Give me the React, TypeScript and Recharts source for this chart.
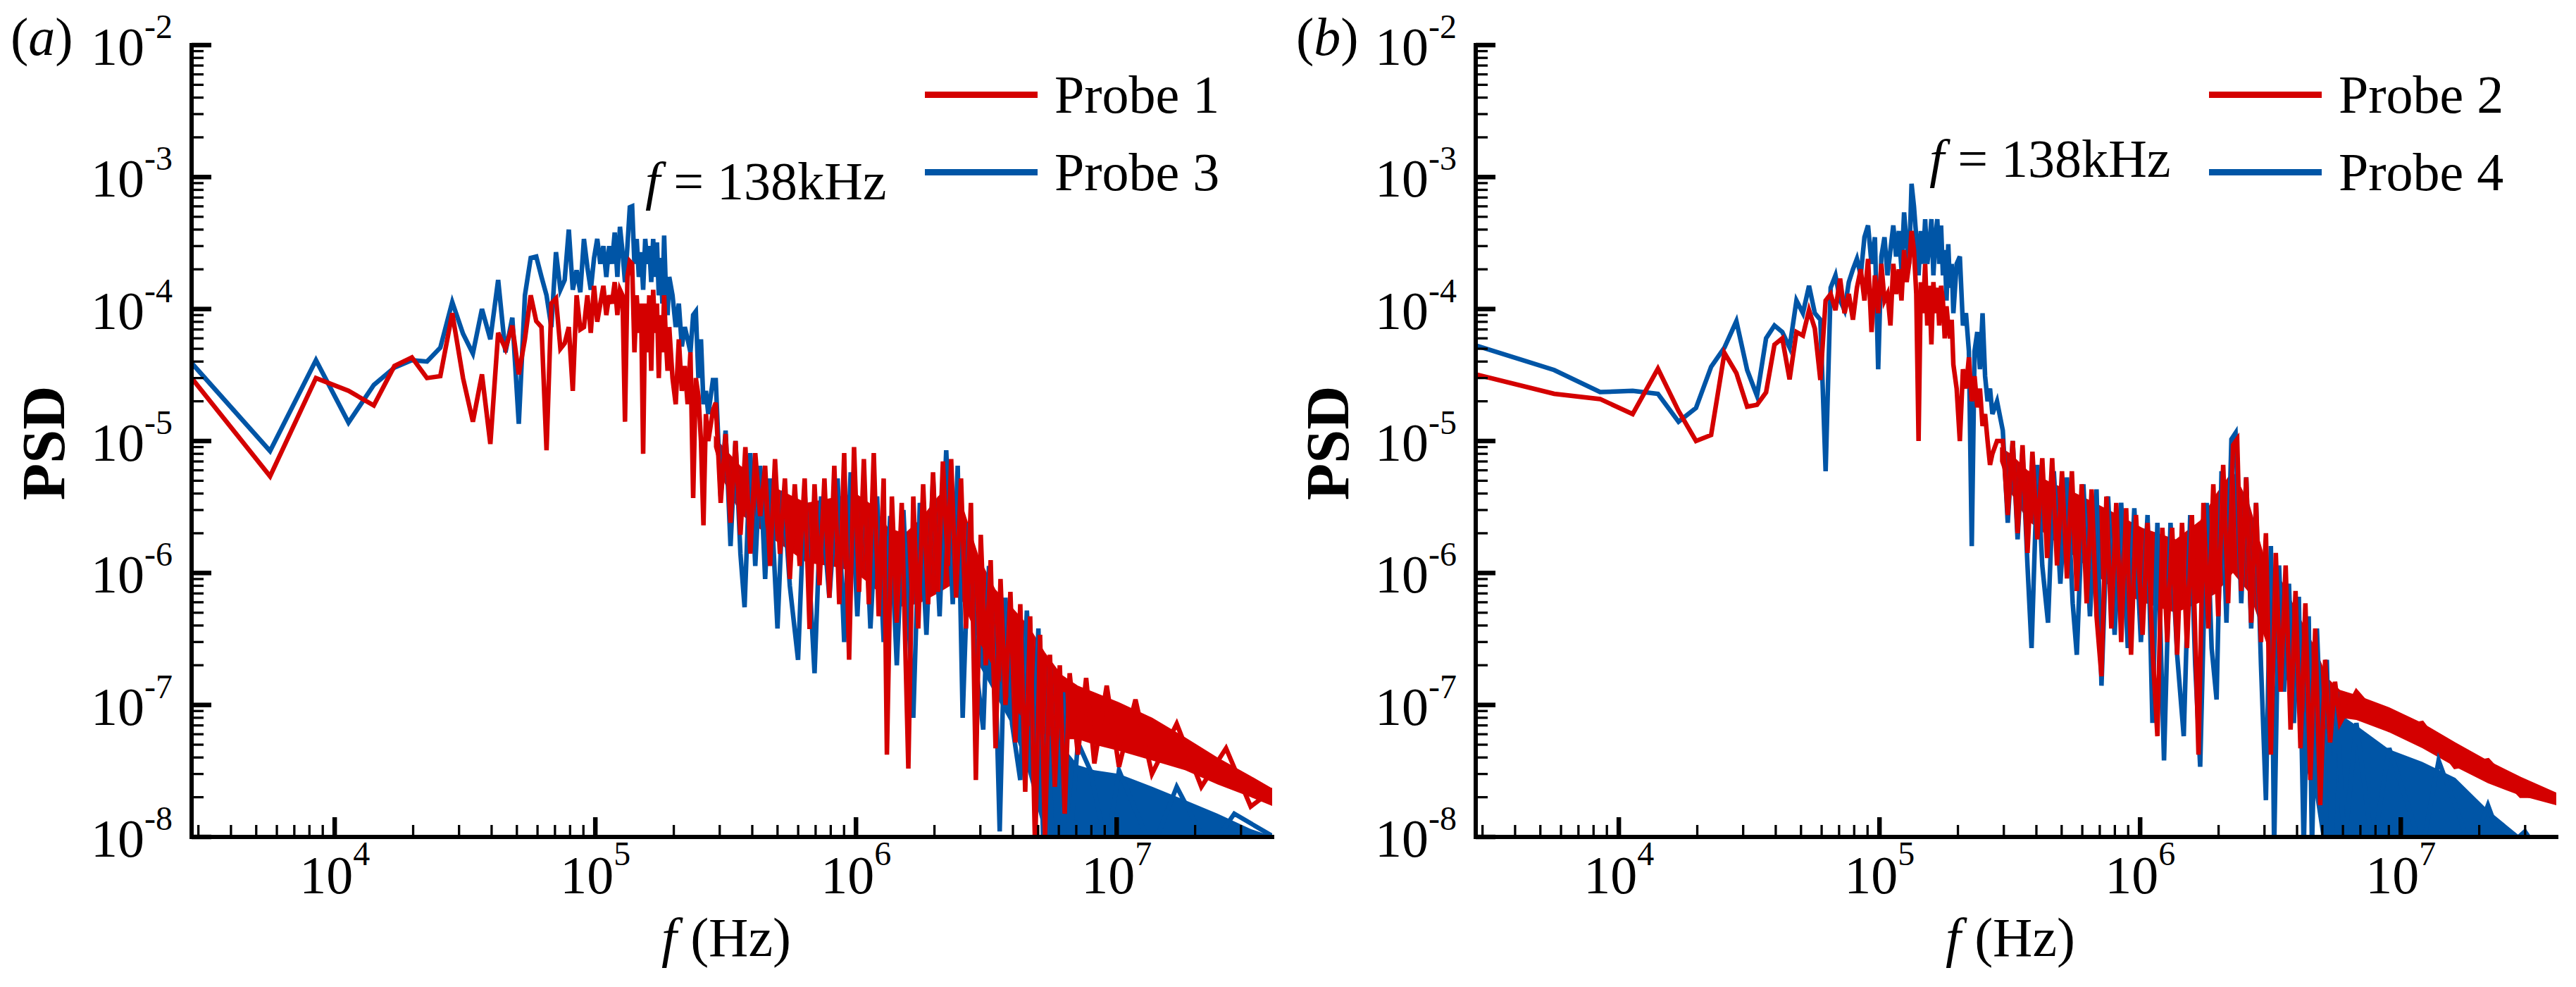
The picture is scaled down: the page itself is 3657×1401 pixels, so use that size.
import React from 'react';
import { ComposedChart, Line, Area, XAxis, YAxis, Legend } from 'recharts';

const SERIF = "'Liberation Serif'";
const TXT: React.CSSProperties = { fontFamily: SERIF };
const RED = '#d40000';
const BLUE = '#0055a6';

// ---------- axes ----------
const X_DOMAIN: [number, number] = [2825, 3.95e7];
const Y_DOMAIN: [number, number] = [1e-8, 1e-2];
const X_MAJOR = [1e4, 1e5, 1e6, 1e7];
const X_MINOR = [3e3, 4e3, 5e3, 6e3, 7e3, 8e3, 9e3, 2e4, 3e4, 4e4, 5e4, 6e4, 7e4, 8e4, 9e4, 2e5, 3e5, 4e5, 5e5, 6e5, 7e5, 8e5, 9e5, 2e6, 3e6, 4e6, 5e6, 6e6, 7e6, 8e6, 9e6, 2e7, 3e7];
const Y_MAJOR = [1e-8, 1e-7, 1e-6, 1e-5, 1e-4, 1e-3, 1e-2];
const Y_MINOR = [
  2e-8, 3e-8, 4e-8, 5e-8, 6e-8, 7e-8, 8e-8, 9e-8,
  2e-7, 3e-7, 4e-7, 5e-7, 6e-7, 7e-7, 8e-7, 9e-7,
  2e-6, 3e-6, 4e-6, 5e-6, 6e-6, 7e-6, 8e-6, 9e-6,
  2e-5, 3e-5, 4e-5, 5e-5, 6e-5, 7e-5, 8e-5, 9e-5,
  2e-4, 3e-4, 4e-4, 5e-4, 6e-4, 7e-4, 8e-4, 9e-4,
  2e-3, 3e-3, 4e-3, 5e-3, 6e-3, 7e-3, 8e-3, 9e-3,
];

// ---------- low-frequency FFT bins (Hz) ----------
const lowFreqHz = [
  2825, 5650, 8475, 11300, 14125, 16950, 19775, 22600, 25425, 28250,
  31075, 33900, 36725, 39550, 42375, 45200, 48025, 50850, 53675, 56500,
  59325, 62150, 64975, 67800, 70625, 73450, 76275, 79100, 81925, 84750,
  87575, 90400, 93225, 96050, 98875, 101700, 104525, 107350, 110175, 113000,
  115825, 118650, 121475, 124300, 127125, 129950, 132775, 135600, 138425, 141250,
  144075, 146900, 149725, 152550, 155375, 158200, 161025, 163850, 166675, 169500,
  172325, 175150, 177975, 180800, 183625, 186450, 189275, 192100,
  197750, 203400, 209050, 214700, 220350, 226000, 231650, 237300, 242950, 248600, 254250, 259900, 265550, 271200,
  282500,
];

// (a) Probe 1 (red) and Probe 3 (blue)
const probe1Low = [
  3.0e-5, 5.4e-6, 3.0e-5, 2.4e-5, 1.86e-5, 3.7e-5, 4.3e-5, 3.0e-5, 3.1e-5, 9.3e-5,
  3.0e-5, 1.4e-5, 3.2e-5, 9.5e-6, 6.6e-5, 5.0e-5, 7.5e-5, 3.2e-5, 5.9e-5, 1.27e-4,
  8.1e-5, 7.3e-5, 8.5e-6, 1.1e-4, 1.2e-4, 5.0e-5, 5.5e-5, 7.3e-5, 2.4e-5, 1.27e-4,
  7.0e-5, 7.3e-5, 1.27e-4, 6.6e-5, 1.5e-4, 8.0e-5, 1.1e-4, 1.5e-4, 9.0e-5, 1.27e-4,
  1.1e-4, 1.6e-4, 9.0e-5, 1.4e-4, 1.27e-4, 1.4e-5, 1.75e-4, 2.3e-4, 2.2e-4, 4.7e-5,
  1.27e-4, 6.6e-5, 1.1e-4, 8.0e-6, 1.1e-4, 4.7e-5, 1.27e-4, 3.4e-5, 1.4e-4, 6.6e-5,
  1.1e-4, 3.0e-5, 9.0e-5, 4.7e-5, 1.27e-4, 5.9e-5, 3.4e-5, 7.3e-5,
  3.0e-5, 1.9e-5, 5.9e-5, 2.4e-5, 3.7e-5, 1.9e-5, 4.7e-5, 3.7e-6, 3.0e-5, 2.2e-5, 1.0e-5, 2.3e-6, 1.6e-5, 1.0e-5,
  1.7e-5,
];
const probe3Low = [
  3.9e-5, 8.4e-6, 4.1e-5, 1.38e-5, 2.66e-5, 3.6e-5, 4.1e-5, 4.0e-5, 5.1e-5, 1.13e-4,
  6.5e-5, 4.6e-5, 1.0e-4, 5.9e-5, 1.66e-4, 4.7e-5, 8.6e-5, 1.35e-5, 1.27e-4, 2.44e-4,
  2.5e-4, 1.75e-4, 1.27e-4, 7.3e-5, 2.7e-4, 1.4e-4, 1.66e-4, 4.0e-4, 1.4e-4, 1.97e-4,
  1.34e-4, 3.4e-4, 2.07e-4, 1.4e-4, 2.44e-4, 3.4e-4, 2.2e-4, 3.0e-4, 1.75e-4, 3.0e-4,
  2.2e-4, 3.8e-4, 1.75e-4, 4.2e-4, 2.7e-4, 1.6e-4, 3.0e-4, 5.9e-4, 6.0e-4, 2.2e-4,
  3.4e-4, 1.75e-4, 2.7e-4, 1.4e-4, 3.4e-4, 2.2e-4, 3.0e-4, 1.6e-4, 3.4e-4, 1.75e-4,
  3.2e-4, 1.27e-4, 2.44e-4, 1.1e-4, 3.6e-4, 1.4e-4, 9.0e-5, 1.75e-4,
  1.27e-4, 7.3e-5, 1.1e-4, 5.2e-5, 7.3e-5, 5.9e-5, 4.7e-5, 9.0e-5, 9.6e-5, 3.0e-5, 5.9e-5, 1.9e-5, 2.4e-5, 1.6e-5,
  2.9e-5,
];

// (b) Probe 2 (red) and Probe 4 (blue)
const probe2Low = [
  3.2e-5, 2.28e-5, 2.08e-5, 1.6e-5, 3.53e-5, 1.69e-5, 1.0e-5, 1.11e-5, 4.65e-5, 3.27e-5,
  1.82e-5, 1.88e-5, 2.34e-5, 5.37e-5, 6.0e-5, 2.93e-5, 6.7e-5, 6.3e-5, 9.8e-5, 7.1e-5,
  2.9e-5, 1.16e-4, 1.3e-4, 9.8e-5, 1.7e-4, 9.3e-5, 1.3e-4, 8.3e-5, 1.45e-4, 2.0e-4,
  1.16e-4, 2.4e-4, 6.7e-5, 1.8e-4, 9.3e-5, 2.2e-4, 1.16e-4, 1.3e-4, 7.5e-5, 2.2e-4,
  1.3e-4, 2.0e-4, 1.16e-4, 2.8e-4, 1.6e-4, 2.2e-4, 3.9e-4, 2.8e-4, 1.3e-4, 1.0e-5,
  1.6e-4, 9.3e-5, 2.2e-4, 7.5e-5, 1.5e-4, 5.4e-5, 1.6e-4, 9.3e-5, 1.45e-4, 7.5e-5,
  1.5e-4, 1.16e-4, 6.0e-5, 1.05e-4, 7.5e-5, 6.0e-5, 8.3e-5, 3.8e-5,
  2.5e-5, 1.0e-5, 3.5e-5, 2.5e-5, 4.3e-5, 2.0e-5, 3.1e-5, 1.8e-5, 2.5e-5, 1.3e-5, 1.6e-5, 1.0e-5, 6.6e-6, 8.0e-6,
  1.0e-5,
];
const probe4Low = [
  5.3e-5, 3.45e-5, 2.35e-5, 2.4e-5, 2.28e-5, 1.4e-5, 1.78e-5, 3.65e-5, 5.1e-5, 8.1e-5,
  3.45e-5, 2.2e-5, 6.0e-5, 7.5e-5, 6.7e-5, 5.1e-5, 1.16e-4, 9.3e-5, 1.5e-4, 9.3e-5,
  8.3e-5, 5.9e-6, 1.45e-4, 1.8e-4, 1.16e-4, 9.8e-5, 1.6e-4, 2.0e-4, 2.4e-4, 1.8e-4,
  3.5e-4, 4.3e-4, 2.2e-4, 3.5e-4, 3.5e-5, 2.5e-4, 3.5e-4, 1.8e-4, 2.8e-4, 4.3e-4,
  2.5e-4, 3.9e-4, 2.0e-4, 5.4e-4, 3.1e-4, 2.2e-4, 8.9e-4, 6.0e-4, 3.5e-4, 1.8e-4,
  3.9e-4, 2.2e-4, 4.8e-4, 2.2e-4, 3.0e-4, 4.8e-4, 1.8e-4, 3.5e-4, 4.8e-4, 2.2e-4,
  4.3e-4, 1.8e-4, 2.8e-4, 1.16e-4, 3.1e-4, 1.45e-4, 2.2e-4, 9.3e-5,
  2.2e-4, 2.5e-4, 7.5e-5, 9.3e-5, 4.8e-5, 1.6e-6, 4.8e-5, 6.7e-5, 3.5e-5, 9.3e-5, 3.1e-5, 2.0e-5, 2.5e-5, 1.6e-5,
  2.0e-5,
];

// ---------- high-frequency spectra: [f (Hz), PSD] spikes ----------
const probe1High: [number, number][] = [
  [2.897e5, 1.95e-5], [3.026e5, 3.4e-6], [3.16e5, 1.13e-5], [3.301e5, 2.4e-6], [3.449e5, 1.0e-5],
  [3.603e5, 1.95e-6], [3.764e5, 9.0e-6], [3.932e5, 1.4e-6], [4.107e5, 8.1e-6], [4.29e5, 2.7e-6],
  [4.481e5, 6.5e-6], [4.681e5, 1.13e-6], [4.89e5, 7.3e-6], [5.108e5, 1.4e-6], [5.336e5, 5.2e-6],
  [5.574e5, 9.0e-7], [5.823e5, 4.7e-6], [6.083e5, 1.13e-6], [6.354e5, 5.2e-6], [6.637e5, 3.76e-7],
  [6.934e5, 4.7e-6], [7.243e5, 8.1e-7], [7.566e5, 5.2e-6], [7.904e5, 6.5e-7], [8.256e5, 6.5e-6],
  [8.625e5, 5.8e-7], [9.01e5, 8.1e-6], [9.41e5, 2.2e-7], [9.83e5, 9.0e-6], [1.027e6, 7.2e-7],
  [1.072e6, 7.3e-6], [1.12e6, 5.8e-7], [1.17e6, 8.1e-6], [1.222e6, 4.7e-7], [1.277e6, 5.2e-6],
  [1.314e6, 4.2e-8], [1.373e6, 3.8e-6], [1.434e6, 4.2e-7], [1.498e6, 3.4e-6], [1.588e6, 3.3e-8],
  [1.659e6, 3.8e-6], [1.733e6, 3.8e-7], [1.81e6, 4.7e-6], [1.891e6, 5.8e-7], [1.975e6, 5.8e-6],
  [2.063e6, 7.2e-7], [2.155e6, 7.0e-6], [2.251e6, 1.13e-6], [2.318e6, 7.3e-6], [2.421e6, 6.5e-7],
  [2.529e6, 5.2e-6], [2.642e6, 3.8e-7], [2.76e6, 3.4e-6], [2.883e6, 2.7e-8], [3.011e6, 1.95e-6],
  [3.146e6, 2.0e-7], [3.286e6, 1.25e-6], [3.432e6, 4.7e-8], [3.585e6, 9.0e-7], [3.745e6, 1.0e-7],
  [3.912e6, 7.2e-7], [4.087e6, 5.2e-8], [4.269e6, 5.8e-7], [4.459e6, 2.2e-8], [4.658e6, 4.7e-7],
  [4.866e6, 8e-9], [5.083e6, 3.4e-7], [5.309e6, 1.0e-8], [5.546e6, 2.4e-7], [5.793e6, 2.4e-8],
  [6.052e6, 2.0e-7], [6.321e6, 1.5e-8], [6.603e6, 1.74e-7], [7.1e6, 4.2e-8], [7.637e6, 1.6e-7],
  [8.213e6, 3.6e-8], [9.16e6, 1.4e-7], [1.021e7, 3.4e-8], [1.181e7, 1.1e-7], [1.366e7, 3.0e-8],
  [1.7e7, 7.2e-8], [2.113e7, 2.4e-8], [2.628e7, 4.7e-8], [3.268e7, 1.7e-8], [4.007e7, 2.3e-8],
];
const probe3High: [number, number][] = [
  [2.897e5, 2.9e-5], [3.026e5, 3.8e-6], [3.16e5, 1.2e-5], [3.301e5, 1.6e-6], [3.449e5, 1.0e-5],
  [3.603e5, 1.4e-6], [3.737e5, 5.5e-7], [3.932e5, 8.1e-6], [4.107e5, 1.13e-6], [4.29e5, 6.5e-6],
  [4.481e5, 9.0e-7], [4.681e5, 5.2e-6], [4.998e5, 3.8e-7], [5.259e5, 4.2e-6], [5.574e5, 8.0e-7],
  [5.994e5, 2.2e-7], [6.354e5, 4.2e-6], [6.934e5, 1.74e-7], [7.348e5, 3.8e-6], [7.904e5, 6.5e-7],
  [8.5e5, 5.2e-6], [9.01e5, 3.0e-7], [9.54e5, 5.8e-6], [1.012e6, 4.7e-7], [1.072e6, 5.2e-6],
  [1.136e6, 3.8e-7], [1.205e6, 3.8e-6], [1.277e6, 3.0e-7], [1.353e6, 2.7e-6], [1.434e6, 2.0e-7],
  [1.52e6, 3.0e-6], [1.659e6, 8.0e-8], [1.758e6, 3.4e-6], [1.863e6, 3.4e-7], [1.975e6, 5.2e-6],
  [2.093e6, 4.7e-7], [2.219e6, 8.5e-6], [2.351e6, 5.8e-7], [2.456e6, 6.5e-6], [2.566e6, 8.0e-8],
  [2.72e6, 2.4e-6], [2.883e6, 2.0e-7], [3.077e6, 6.5e-8], [3.238e6, 1.13e-6], [3.432e6, 1.6e-7],
  [3.559e6, 1.1e-8], [3.745e6, 6.5e-7], [3.97e6, 7.2e-8], [4.269e6, 2.7e-8], [4.524e6, 5.2e-7],
  [4.796e6, 4.2e-8], [5.01e6, 3.8e-7], [5.233e6, 8e-9], [5.546e6, 2.2e-7], [5.921e6, 8e-9],
  [6.23e6, 1.25e-7], [6.603e6, 8e-9], [7.1e6, 5.2e-8], [7.92e6, 3.2e-8], [9.16e6, 8e-9],
  [1.021e7, 3.2e-8], [1.366e7, 8e-9], [1.7e7, 2.4e-8], [2.273e7, 8e-9], [2.827e7, 1.5e-8], [4.007e7, 1.0e-8],
];
const probe2High: [number, number][] = [
  [2.973e5, 1.0e-5], [3.106e5, 2.75e-6], [3.245e5, 1.0e-5], [3.388e5, 2.0e-6], [3.539e5, 9.3e-6],
  [3.697e5, 1.42e-6], [3.862e5, 8.3e-6], [4.034e5, 1.8e-6], [4.213e5, 7.4e-6], [4.4e5, 1.3e-6],
  [4.598e5, 7.4e-6], [4.8e5, 1.14e-6], [5.015e5, 5.9e-6], [5.24e5, 9.1e-7], [5.472e5, 5.9e-6],
  [5.716e5, 7.3e-7], [5.97e5, 4.7e-6], [6.237e5, 5.9e-7], [6.514e5, 4.3e-6], [6.805e5, 4.7e-7],
  [7.108e5, 1.65e-7], [7.425e5, 3.8e-6], [7.755e5, 3.8e-7], [8.1e5, 3.4e-6], [8.46e5, 3.0e-7],
  [8.84e5, 3.1e-6], [9.23e5, 2.4e-7], [9.64e5, 2.75e-6], [1.022e6, 3.4e-7], [1.068e6, 2.4e-6],
  [1.115e6, 2.7e-7], [1.165e6, 5.8e-8], [1.217e6, 2.2e-6], [1.271e6, 3.0e-7], [1.327e6, 2.2e-6],
  [1.387e6, 2.4e-7], [1.448e6, 2.4e-6], [1.513e6, 2.7e-7], [1.58e6, 2.75e-6], [1.675e6, 4.2e-8],
  [1.75e6, 3.4e-6], [1.827e6, 3.8e-7], [1.909e6, 4.7e-6], [1.994e6, 4.7e-7], [2.083e6, 6.6e-6],
  [2.176e6, 5.9e-7], [2.273e6, 9.3e-6], [2.357e6, 1.03e-5], [2.443e6, 7.3e-7], [2.553e6, 5.3e-6],
  [2.667e6, 4.2e-7], [2.785e6, 3.4e-6], [2.909e6, 3.0e-7], [3.038e6, 2.0e-6], [3.174e6, 4.2e-8],
  [3.315e6, 1.42e-6], [3.463e6, 1.26e-7], [3.617e6, 1.14e-6], [3.778e6, 6.5e-8], [3.947e6, 7.3e-7],
  [4.123e6, 4.7e-8], [4.306e6, 5.9e-7], [4.498e6, 2.7e-8], [4.698e6, 3.8e-7], [4.908e6, 1.74e-8],
  [5.127e6, 2.2e-7], [5.356e6, 5.2e-8], [5.593e6, 1.5e-7], [5.843e6, 7.3e-8], [6.757e6, 1.26e-7],
  [9.03e6, 6.5e-8], [1.208e7, 7.3e-8], [1.615e7, 3.4e-8], [2.16e7, 3.8e-8], [2.887e7, 2.05e-8], [3.862e7, 2.05e-8],
];
const probe4High: [number, number][] = [
  [2.973e5, 1.2e-5], [3.106e5, 2.4e-6], [3.245e5, 1.0e-5], [3.388e5, 1.8e-6], [3.539e5, 8.3e-6],
  [3.697e5, 1.14e-6], [3.833e5, 2.7e-7], [4.034e5, 6.6e-6], [4.213e5, 1.14e-6], [4.433e5, 4.2e-7],
  [4.665e5, 5.9e-6], [4.943e5, 8.3e-7], [5.24e5, 5.3e-6], [5.512e5, 5.9e-7], [5.716e5, 2.4e-7],
  [6.058e5, 4.7e-6], [6.42e5, 4.7e-7], [6.805e5, 4.3e-6], [7.108e5, 1.4e-7], [7.534e5, 3.8e-6],
  [7.983e5, 3.4e-7], [8.46e5, 3.4e-6], [8.97e5, 2.7e-7], [9.5e5, 3.1e-6], [1.007e6, 3.0e-7],
  [1.068e6, 2.75e-6], [1.115e6, 7.3e-8], [1.165e6, 2.4e-6], [1.235e6, 3.8e-8], [1.308e6, 2.4e-6],
  [1.387e6, 2.4e-7], [1.47e6, 5.8e-8], [1.557e6, 2.75e-6], [1.627e6, 2.0e-7], [1.7e6, 3.4e-8],
  [1.8e6, 3.4e-6], [1.881e6, 2.7e-7], [1.965e6, 1.1e-7], [2.053e6, 5.9e-6], [2.144e6, 4.2e-7],
  [2.24e6, 1.03e-5], [2.323e6, 1.15e-5], [2.443e6, 5.9e-7], [2.553e6, 5.3e-6], [2.667e6, 3.8e-7],
  [2.785e6, 3.4e-6], [2.909e6, 2.0e-7], [3.038e6, 1.9e-8], [3.174e6, 1.6e-6], [3.267e6, 8e-9],
  [3.413e6, 1.14e-6], [3.565e6, 1.26e-7], [3.724e6, 8.3e-7], [3.89e6, 7.3e-8], [4.063e6, 6.6e-7],
  [4.244e6, 8e-9], [4.434e6, 4.7e-7], [4.564e6, 8e-9], [4.767e6, 3.8e-7], [4.98e6, 4.2e-8],
  [5.202e6, 2.2e-7], [5.433e6, 8e-9], [5.675e6, 1.26e-7], [6.058e6, 8e-9], [6.757e6, 7.3e-8],
  [7.81e6, 8e-9], [9.03e6, 4.7e-8], [1.208e7, 8e-9], [1.397e7, 3.8e-8], [1.867e7, 8e-9],
  [2.16e7, 1.74e-8], [2.497e7, 8e-9], [2.995e7, 1.1e-8], [3.34e7, 8e-9],
];

// ---------- dense-band cores: [f (Hz), low PSD, high PSD] ----------
const probe1Band: [number, number, number][] = [
  [2.85e5, 9e-6, 1.1e-5], [3.1e5, 5e-6, 9e-6], [3.6e5, 2.8e-6, 6.5e-6], [4.82e5, 1.8e-6, 4.5e-6],
  [6.45e5, 1.2e-6, 3.4e-6], [8.6e5, 1.1e-6, 3.8e-6], [1.0e6, 1.0e-6, 4e-6], [1.15e6, 8e-7, 3.3e-6],
  [1.33e6, 6e-7, 2.2e-6], [1.54e6, 5.5e-7, 2e-6], [1.78e6, 6e-7, 2.6e-6], [2.06e6, 7e-7, 3.8e-6],
  [2.3e6, 8e-7, 4.6e-6], [2.57e6, 6e-7, 3.2e-6], [2.97e6, 3e-7, 1.3e-6], [3.43e6, 1.8e-7, 7.5e-7],
  [3.97e6, 1e-7, 5.5e-7], [4.59e6, 7e-8, 4e-7], [5.31e6, 6e-8, 2.5e-7], [6.14e6, 5.5e-8, 1.7e-7],
  [7.1e6, 5.5e-8, 1.4e-7], [8.2e6, 5e-8, 1.25e-7], [1.02e7, 4.5e-8, 1.05e-7], [1.37e7, 3.8e-8, 8e-8],
  [1.83e7, 3.2e-8, 5.7e-8], [2.44e7, 2.5e-8, 4e-8], [3.27e7, 2e-8, 2.9e-8], [4.0e7, 1.7e-8, 2.3e-8],
];
const probe3Band: [number, number, number][] = [
  [2.97e6, 2e-7, 8e-7], [3.97e6, 7e-8, 4e-7], [4.59e6, 3e-8, 2.5e-7], [5.31e6, 1e-8, 1.2e-7],
  [6.14e6, 5e-9, 5e-8], [7.1e6, 5e-9, 3.5e-8], [8.21e6, 5e-9, 3.2e-8], [1.02e7, 5e-9, 3e-8],
  [1.37e7, 5e-9, 2.4e-8], [1.83e7, 5e-9, 1.9e-8], [2.44e7, 5e-9, 1.5e-8], [3.27e7, 5e-9, 1.15e-8],
  [4.0e7, 5e-9, 1.0e-8],
];
const probe2Band: [number, number, number][] = [
  [2.9e5, 7e-6, 9e-6], [3.2e5, 4e-6, 8e-6], [3.7e5, 2.5e-6, 6e-6], [4.6e5, 1.8e-6, 4.8e-6],
  [5.7e5, 1.3e-6, 4e-6], [7.6e5, 8e-7, 3e-6], [1.02e6, 6e-7, 2.2e-6], [1.37e6, 5e-7, 1.8e-6],
  [1.7e6, 6e-7, 2.5e-6], [1.96e6, 7e-7, 4e-6], [2.27e6, 1e-6, 6e-6], [2.63e6, 7e-7, 3.3e-6],
  [3.04e6, 3e-7, 1.2e-6], [3.52e6, 1.8e-7, 8.5e-7], [4.06e6, 1e-7, 4.8e-7], [4.7e6, 7e-8, 2.7e-7],
  [5.24e6, 6.5e-8, 1.6e-7], [5.84e6, 8e-8, 1.3e-7], [6.76e6, 7.7e-8, 1.19e-7], [9.03e6, 6.2e-8, 9.6e-8],
  [1.21e7, 4.7e-8, 7.3e-8], [1.62e7, 3.4e-8, 5.2e-8], [2.16e7, 2.55e-8, 3.8e-8], [2.89e7, 2.05e-8, 2.85e-8],
  [3.95e7, 1.74e-8, 2.17e-8],
];
const probe4Band: [number, number, number][] = [
  [4.06e6, 5e-8, 3e-7], [4.7e6, 2e-8, 2e-7], [5.24e6, 5e-9, 1.1e-7], [5.84e6, 5e-9, 8.5e-8],
  [6.76e6, 5e-9, 7e-8], [9.03e6, 5e-9, 4.6e-8], [1.21e7, 5e-9, 3.7e-8], [1.62e7, 5e-9, 2.8e-8],
  [2.16e7, 5e-9, 1.6e-8], [2.89e7, 5e-9, 1.0e-8], [3.4e7, 5e-9, 7e-9],
];

// ---------- table builders ----------
type Pt = { f: number; p: number };
type Rg = { f: number; r: [number, number] };
const buildLine = (low: number[], high: [number, number][]): Pt[] => [
  ...low.map((p, i) => ({ f: lowFreqHz[i], p })),
  ...high.map(([f, p]) => ({ f, p })),
];
const buildBand = (band: [number, number, number][]): Rg[] => band.map(([f, lo, hi]) => ({ f, r: [lo, hi] }));

// ---------- geometry (chart-local pixels) ----------
const CW = 1830;
const CH = 1401;
const PLOT_LEFT = 272;
const PLOT_BOTTOM = 1188;
const isMajor = (v: number) => Math.abs(Math.log10(v) - Math.round(Math.log10(v))) < 1e-6;

const XTick = (props: any) => {
  const x = props.x;
  const v = props.payload?.value;
  const major = isMajor(v);
  const len = major ? 28 : 17;
  return (
    <g>
      <line x1={x} x2={x} y1={PLOT_BOTTOM} y2={PLOT_BOTTOM - len} stroke="#000" strokeWidth={major ? 6.5 : 3.3} />
      {major && (
        <text x={x} y={PLOT_BOTTOM + 80} textAnchor="middle" style={TXT} fontSize={76} fill="#000">
          10<tspan dy={-40} fontSize={48}>{String(Math.round(Math.log10(v)))}</tspan>
        </text>
      )}
    </g>
  );
};

const YTick = (props: any) => {
  const y = props.y;
  const v = props.payload?.value;
  const major = isMajor(v);
  const len = major ? 28 : 17;
  return (
    <g>
      <line x1={PLOT_LEFT} x2={PLOT_LEFT + len} y1={y} y2={y} stroke="#000" strokeWidth={major ? 6.5 : 3.3} />
      {major && (
        <text x={PLOT_LEFT - 27} y={y + 28} textAnchor="end" style={TXT} fontSize={76} fill="#000">
          10<tspan dy={-38} fontSize={48}>{String(Math.round(Math.log10(v)))}</tspan>
        </text>
      )}
    </g>
  );
};

const XTitle = () => (
  <text x={1031} y={1357} textAnchor="middle" style={TXT} fontSize={78} fill="#000">
    <tspan fontStyle="italic">f</tspan>
    <tspan>{' (Hz)'}</tspan>
  </text>
);

const YTitle = () => (
  <text x={91} y={629} transform="rotate(-90 91 629)" textAnchor="middle" style={TXT} fontWeight="bold" fontSize={86} fill="#000">
    PSD
  </text>
);

const LegendBox = ({ names }: { names: string[] }) => {
  const colors = [RED, BLUE];
  return (
    <div style={{ position: 'relative', width: 520, height: 230 }}>
      {names.map((n, i) => (
        <div key={n} style={{ position: 'absolute', left: 0, top: i * 110, height: 90, display: 'flex', alignItems: 'center' }}>
          <div style={{ width: 160, height: 9, background: colors[i] }} />
          <span style={{ marginLeft: 24, fontFamily: SERIF, fontSize: 76, lineHeight: '90px', color: '#000', whiteSpace: 'nowrap' }}>{n}</span>
        </div>
      ))}
    </div>
  );
};

const AXIS_LINE = { stroke: '#000', strokeWidth: 6, strokeLinecap: 'square' as const };

type PanelProps = {
  left: number;
  red: Pt[];
  blue: Pt[];
  redBand: Rg[];
  blueBand: Rg[];
  names: string[];
};

const Panel = ({ left, red, blue, redBand, blueBand, names }: PanelProps) => (
  <div style={{ position: 'absolute', left, top: 0, width: CW, height: CH }}>
    <ComposedChart width={CW} height={CH} margin={{ top: 64, right: 24, bottom: 63, left: 22 }}>
      <XAxis
        xAxisId="x"
        dataKey="f"
        type="number"
        scale="log"
        domain={X_DOMAIN}
        allowDataOverflow
        ticks={[...X_MINOR, ...X_MAJOR]}
        interval={0}
        tick={<XTick />}
        tickLine={false}
        tickSize={0}
        tickMargin={0}
        height={150}
        axisLine={AXIS_LINE}
        label={{ content: XTitle }}
      />
      <XAxis xAxisId="top" orientation="top" type="number" scale="log" domain={X_DOMAIN} allowDataOverflow tick={false} tickLine={false} height={0} axisLine={AXIS_LINE} />
      <YAxis
        yAxisId="y"
        type="number"
        scale="log"
        domain={Y_DOMAIN}
        allowDataOverflow
        ticks={[...Y_MINOR, ...Y_MAJOR]}
        interval={0}
        tick={<YTick />}
        tickLine={false}
        tickSize={0}
        tickMargin={0}
        width={250}
        axisLine={AXIS_LINE}
        label={{ content: YTitle }}
      />
      <YAxis yAxisId="right" orientation="right" type="number" scale="log" domain={Y_DOMAIN} allowDataOverflow tick={false} tickLine={false} width={0} axisLine={AXIS_LINE} />
      <Area xAxisId="x" yAxisId="y" data={blueBand} dataKey="r" type="linear" stroke="none" fill={BLUE} fillOpacity={1} isAnimationActive={false} />
      <Line xAxisId="x" yAxisId="y" data={blue} dataKey="p" type="linear" stroke={BLUE} strokeWidth={6.5} dot={false} activeDot={false} isAnimationActive={false} />
      <Area xAxisId="x" yAxisId="y" data={redBand} dataKey="r" type="linear" stroke="none" fill={RED} fillOpacity={1} isAnimationActive={false} />
      <Line xAxisId="x" yAxisId="y" data={red} dataKey="p" type="linear" stroke={RED} strokeWidth={6.5} dot={false} activeDot={false} isAnimationActive={false} />
      <Legend
        layout="horizontal"
        verticalAlign="middle"
        align="center"
        wrapperStyle={{ left: 1313, top: 89, width: 520, height: 230 }}
        content={() => <LegendBox names={names} />}
      />
    </ComposedChart>
  </div>
);

const PANEL_B_LEFT = 1823;

export default function App() {
  return (
    <div style={{ position: 'absolute', left: 0, top: 0, width: 3657, height: 1401, background: '#fff', overflow: 'hidden', fontFamily: SERIF }}>
      <Panel
        left={0}
        red={buildLine(probe1Low, probe1High)}
        blue={buildLine(probe3Low, probe3High)}
        redBand={buildBand(probe1Band)}
        blueBand={buildBand(probe3Band)}
        names={['Probe 1', 'Probe 3']}
      />
      <Panel
        left={PANEL_B_LEFT}
        red={buildLine(probe2Low, probe2High)}
        blue={buildLine(probe4Low, probe4High)}
        redBand={buildBand(probe2Band)}
        blueBand={buildBand(probe4Band)}
        names={['Probe 2', 'Probe 4']}
      />
      <svg width={3657} height={1401} style={{ position: 'absolute', left: 0, top: 0, pointerEvents: 'none' }}>
        <g fontSize={76} fill="#000">
          <text x={15} y={78} style={TXT}>
            {'('}<tspan fontStyle="italic">a</tspan>{')'}
          </text>
          <text x={PANEL_B_LEFT + 17} y={78} style={TXT}>
            {'('}<tspan fontStyle="italic">b</tspan>{')'}
          </text>
          <text x={916} y={283} style={TXT}>
            <tspan fontStyle="italic">f</tspan>
            <tspan>{' = 138kHz'}</tspan>
          </text>
          <text x={PANEL_B_LEFT + 916} y={251} style={TXT}>
            <tspan fontStyle="italic">f</tspan>
            <tspan>{' = 138kHz'}</tspan>
          </text>
        </g>
      </svg>
    </div>
  );
}
